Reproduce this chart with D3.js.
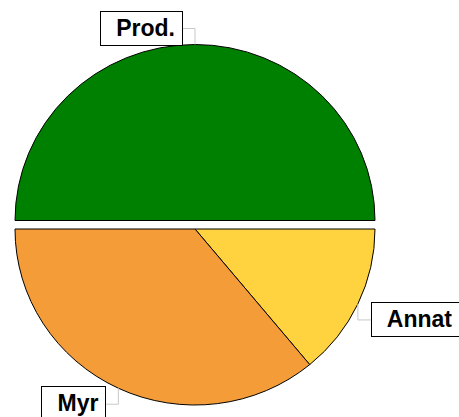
<!DOCTYPE html>
<html>
<head>
<meta charset="utf-8">
<script src="https://cdn.jsdelivr.net/npm/d3@7"></script>
<style>
	body { margin: 0; background: #fff; }
	svg { display: block; }
	.lbl text { font-family: "Liberation Sans", Arial, sans-serif; font-weight: bold; font-size: 23px; fill: #000; }
</style>
</head>
<body>
<svg id="chart" width="459" height="417"></svg>
<script>
// slice data
const categories	= ['Prod.', 'Annat', 'Myr'];
const shares		= [50, 14, 36];
const colors		= ['#008000', '#ffd23f', '#f39c38'];

let svg		= d3.select('#chart');

let cx		= 195, cy = 229;
let rx		= 180, ry = 176;
let explode	= 8.5;

let pie		= d3.pie().sort(null).startAngle(-Math.PI / 2).endAngle(Math.PI * 3 / 2);
let arc		= d3.arc().innerRadius(0).outerRadius(rx);
let slices	= pie(shares);

let root	= svg.append('g').attr('transform', 'translate(' + cx + ',' + cy + ')');

// the top slice is pulled out straight up
let offY	= (d) => (d.index === 0 ? -explode : 0);

root.selectAll('path.slice').data(slices).enter().append('path')
	.attr('class', 'slice')
	.attr('transform', (d) => 'translate(0,' + offY(d) + ') scale(1,' + (ry / rx) + ')')
	.attr('d', arc)
	.style('fill', (d, i) => colors[i])
	.style('stroke', '#000')
	.style('stroke-width', 1)
	.attr('vector-effect', 'non-scaling-stroke');

// labels with elbow connectors
slices.forEach((d, i) => {
	let mid		= (d.startAngle + d.endAngle) / 2;
	let ax		= Math.sin(mid) * rx;
	let ay		= -Math.cos(mid) * ry + offY(d);
	let side	= ax > 1 ? 1 : -1;
	let up		= ay < 0 ? -1 : 1;
	let ex		= ax + side * 13;
	let ey		= ay + up * 16;

	root.append('polyline')
		.attr('points', [[ax, ay], [ax, ey], [ex, ey]].map((p) => p.join(',')).join(' '))
		.style('fill', 'none').style('stroke', '#c8c8c8').style('stroke-width', 1);

	let g		= root.append('g').attr('class', 'lbl');
	let rect	= g.append('rect').style('fill', '#fff').style('stroke', '#000').style('stroke-width', 1);
	let txt		= g.append('text').text(categories[i]);
	let w		= txt.node().getComputedTextLength() + 23;
	let h		= 34;
	let x0		= side > 0 ? ex : ex - w;
	let y0		= ey - h / 2 - 1;

	rect.attr('x', Math.round(x0) + .5).attr('y', Math.round(y0) + .5).attr('width', Math.round(w)).attr('height', h);
	txt.attr('x', x0 + 16).attr('y', y0 + 25);
});
</script>
</body>
</html>
